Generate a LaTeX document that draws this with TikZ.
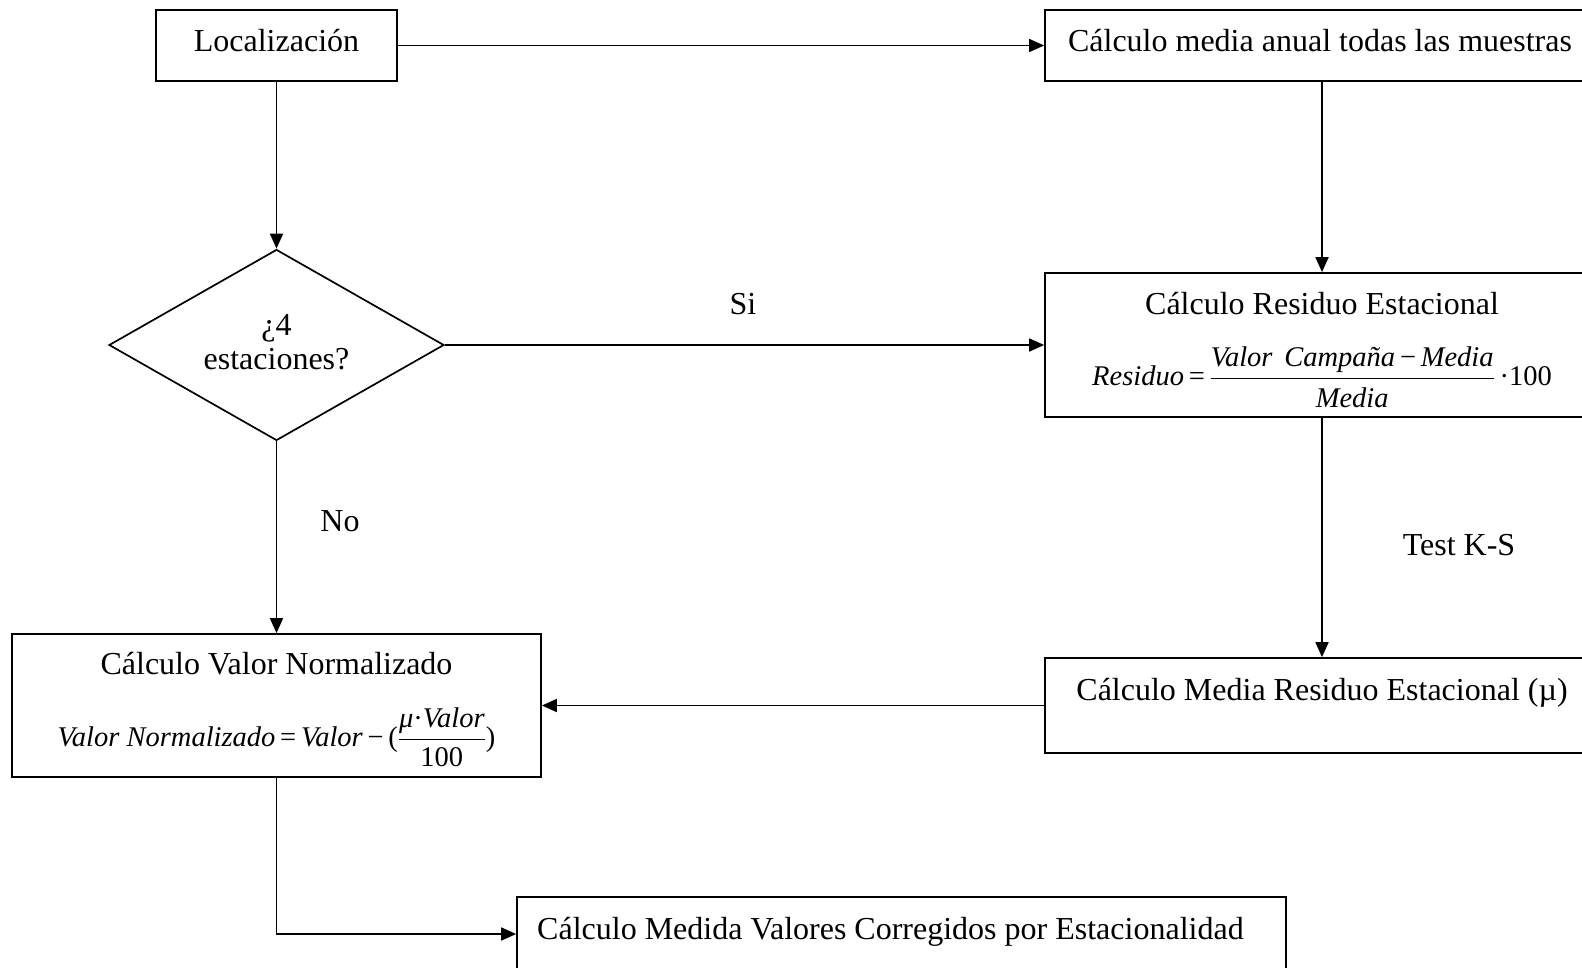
\RequirePackage{fix-cm}
\documentclass[tikz,border=0pt]{standalone}
\usepackage{amsmath}
\usepackage{fontspec}
\setmainfont{Liberation Serif}
\usetikzlibrary{shapes.geometric,arrows.meta}
\newcommand{\vitx}[1]{\mbox{\itshape #1}}
\newcommand{\vupx}[1]{\mbox{\upshape #1}}
\begin{document}
\begin{tikzpicture}[x=1pt,y=-1pt,
  box/.style={draw, rectangle, line width=1.7pt, inner sep=0pt},
  txt/.style={inner sep=0pt, font=\fontsize{32}{34}\selectfont, align=center},
  frm/.style={inner sep=0pt, font=\fontsize{28.5}{31}\selectfont},
  arr/.style={line width=1.7pt, -{Triangle[length=15pt,width=13pt]}},
  ln/.style={line width=1.7pt}]
\useasboundingbox (0,0) rectangle (1582,967);
\clip (0,0) rectangle (1582,967);
% boxes
\node[box, minimum width=241pt, minimum height=71pt] (loc) at (276.5,45.5) {};
\node[txt] (loct) at (276.5,41) {Localización};
\node[box, minimum width=554pt, minimum height=71pt] (top) at (1322,45.5) {};
\node[txt] (topt) at (1320,41) {Cálculo media anual todas las muestras};
\node[draw, diamond, line width=1.7pt, inner sep=0pt, minimum width=335pt, minimum height=191pt] (dia) at (276.5,345) {};
\node[txt] (diat) at (276.5,342) {¿4\\estaciones?};
\node[box, minimum width=554pt, minimum height=144pt] (res) at (1322,345) {};
\node[txt] (rest) at (1322,304) {Cálculo Residuo Estacional};
\node[frm] (resf) at (1322,377) {$\vitx{Residuo}\vupx{\,=\,}\dfrac{\vitx{Valor\ \,Campaña}\vupx{\,−\,}\vitx{Media}}{\vitx{\rule{0pt}{25pt}Media}}\vupx{\,·100}$};
\node[box, minimum width=554pt, minimum height=95pt] (med) at (1322,705.5) {};
\node[txt] (medt) at (1322,693) {Cálculo Media Residuo Estacional (µ)};
\node[box, minimum width=529pt, minimum height=143pt] (vn) at (276.5,705.5) {};
\node[txt] (vnt) at (276.5,664) {Cálculo Valor Normalizado};
\node[frm] (vnf) at (276.5,737) {$\vitx{Valor Normalizado}\vupx{\,=\,}\vitx{Valor}\vupx{\,−\,(}\dfrac{\vitx{μ}\vupx{·}\vitx{Valor}}{\vupx{\rule{0pt}{22pt}100}}\vupx{)}$};
\node[box, minimum width=769pt, minimum height=113pt] (bot) at (901.5,953.5) {};
\node[txt, anchor=west] (bott) at (537,932) {Cálculo Medida Valores Corregidos por Estacionalidad};
% labels
\node[txt] (si) at (743,304) {Si};
\node[txt] (no) at (340,521) {No};
\node[txt] (ks) at (1459,545) {Test K-S};
% connectors
\draw[arr] (loc.east) -- (top.west);
\draw[arr] (loc.south) -- (dia.north);
\draw[arr] (top.south) -- (res.north);
\draw[arr] (dia.east) -- (res.west);
\draw[arr] (res.south) -- (med.north);
\draw[arr] (med.west) -- (vn.east);
\draw[arr] (dia.south) -- (vn.north);
\draw[arr] (vn.south) |- ([yshift=19.5pt]bot.west);
\end{tikzpicture}
\end{document}
